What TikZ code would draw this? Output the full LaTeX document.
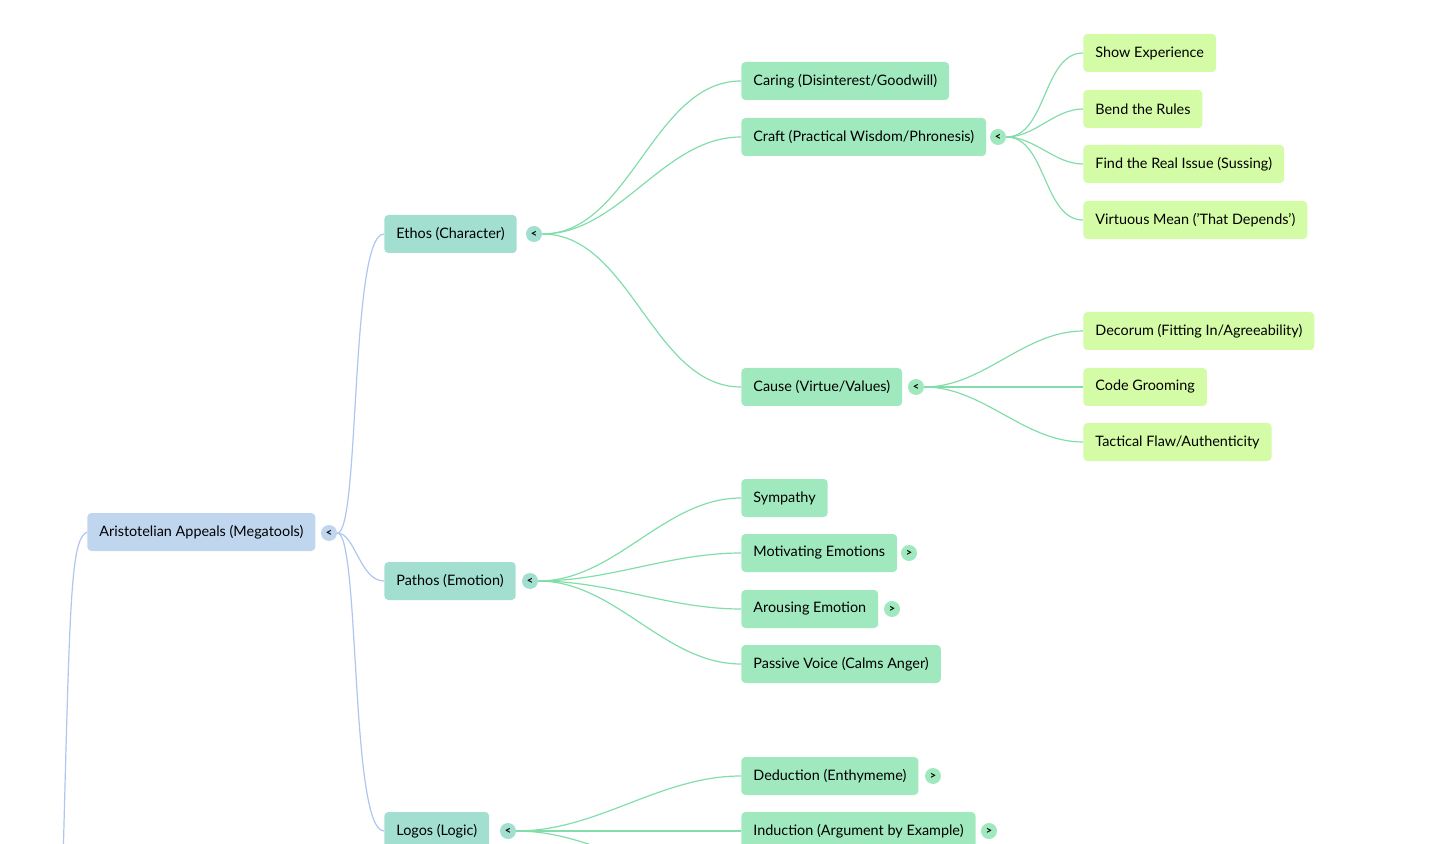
\documentclass[tikz,border=0pt]{standalone}
\usepackage{fontspec}
\setmainfont{Lato}
\definecolor{rootc}{HTML}{C0D6EF}
\definecolor{lvone}{HTML}{A2DFD0}
\definecolor{lvtwo}{HTML}{A0E9BE}
\definecolor{leafc}{HTML}{D4FBA6}
\definecolor{blline}{HTML}{AEC6F0}
\definecolor{grline}{HTML}{82DDAA}
\begin{document}
\begin{tikzpicture}[x=0.5pt,y=-0.5pt,
  box/.style={anchor=west,rounded corners=2pt,inner xsep=6pt,minimum height=19pt,font=\fontsize{7.2}{8}\selectfont,text=black},
  rootbox/.style={box,fill=rootc},
  onebox/.style={box,fill=lvone},
  twobox/.style={box,fill=lvtwo},
  leafbox/.style={box,fill=leafc},
  tgl/.style={circle,inner sep=0pt,minimum size=8pt,font=\fontsize{5.5}{6}\selectfont\bfseries},
  bl/.style={draw=blline,line width=0.6pt},
  gl/.style={draw=grline,line width=0.6pt},
  lk/.style={out=0,in=180,looseness=0.9}]
\useasboundingbox (0,0) rectangle (1456,844);
\clip (0,0) rectangle (1456,844);
% nodes
\node[rootbox] (root) at (87,532) {Aristotelian Appeals (Megatools)};
\node[tgl,fill=rootc] (troot) at (329,533) {<};
\node[onebox] (ethos) at (384,234) {Ethos (Character)};
\node[tgl,fill=lvone] (tethos) at (534,234) {<};
\node[onebox] (pathos) at (384,581) {Pathos (Emotion)};
\node[tgl,fill=lvone] (tpathos) at (530,581) {<};
\node[onebox] (logos) at (384,831) {Logos (Logic)};
\node[tgl,fill=lvone] (tlogos) at (508,831) {<};
\node[twobox] (caring) at (741,81) {Caring (Disinterest/Goodwill)};
\node[twobox] (craft) at (741,137) {Craft (Practical Wisdom/Phronesis)};
\node[tgl,fill=lvtwo] (tcraft) at (998,137) {<};
\node[twobox] (cause) at (741,387) {Cause (Virtue/Values)};
\node[tgl,fill=lvtwo] (tcause) at (916,387) {<};
\node[twobox] (symp) at (741,498) {Sympathy};
\node[twobox] (motiv) at (741,553) {Motivating Emotions};
\node[tgl,fill=lvtwo] (tmotiv) at (909,553) {>};
\node[twobox] (arous) at (741,609) {Arousing Emotion};
\node[tgl,fill=lvtwo] (tarous) at (892,609) {>};
\node[twobox] (passive) at (741,664) {Passive Voice (Calms Anger)};
\node[twobox] (deduc) at (741,776) {Deduction (Enthymeme)};
\node[tgl,fill=lvtwo] (tdeduc) at (933,776) {>};
\node[twobox] (induc) at (741,831) {Induction (Argument by Example)};
\node[tgl,fill=lvtwo] (tinduc) at (989,831) {>};
\coordinate (more) at (741,887);
\coordinate (rootin) at (62,900);
\node[leafbox] (show) at (1083,53) {Show Experience};
\node[leafbox] (bend) at (1083,109) {Bend the Rules};
\node[leafbox] (find) at (1083,164) {Find the Real Issue (Sussing)};
\node[leafbox] (virt) at (1083,220) {Virtuous Mean ('That Depends')};
\node[leafbox] (decor) at (1083,331) {Decorum (Fitting In/Agreeability)};
\node[leafbox] (code) at (1083,387) {Code Grooming};
\node[leafbox] (tact) at (1083,442) {Tactical Flaw/Authenticity};
% connectors
\draw[bl] (rootin) .. controls (70,600) and (70,540) .. (root.west);
\draw[bl] (troot.east) .. controls (360,533) and (350,234) .. (ethos.west);
\draw[bl] (troot.east) .. controls (355,533) and (360,581) .. (pathos.west);
\draw[bl] (troot.east) .. controls (360,533) and (350,831) .. (logos.west);
\foreach \c in {caring,craft,cause} \draw[gl] (tethos.east) to[lk] (\c.west);
\foreach \c in {symp,motiv,arous,passive} \draw[gl] (tpathos.east) to[lk] (\c.west);
\foreach \c in {deduc,induc,more} \draw[gl] (tlogos.east) to[lk] (\c);
\foreach \c in {show,bend,find,virt} \draw[gl] (tcraft.east) to[lk] (\c.west);
\foreach \c in {decor,code,tact} \draw[gl] (tcause.east) to[lk] (\c.west);
\end{tikzpicture}
\end{document}
